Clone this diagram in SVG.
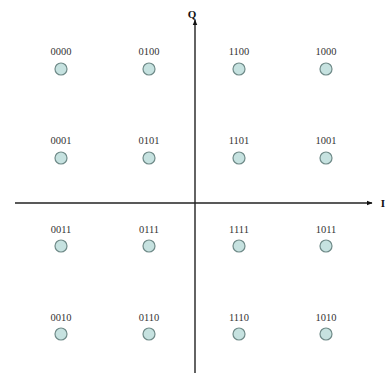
<svg xmlns="http://www.w3.org/2000/svg" width="388" height="373" viewBox="0 0 388 373">
<defs>
<style>
.pt{fill:#c6e2e0;stroke:#6f8a88;stroke-width:1.2}
.lb{font-family:"Liberation Serif",serif;font-size:10.5px;fill:#333;text-anchor:middle}
.ax{stroke:#222;stroke-width:1.4;fill:none}
.al{font-family:"Liberation Serif",serif;font-size:11px;fill:#111;text-anchor:middle;font-weight:bold}
</style>
<marker id="ah" viewBox="0 0 10 10" refX="9" refY="5" markerWidth="6" markerHeight="6" orient="auto" markerUnits="userSpaceOnUse">
<path d="M0,1 L10,5 L0,9 Z" fill="#111"/>
</marker>
</defs>
<rect width="388" height="373" fill="#fff"/>
<g id="connectors">
<line class="ax" x1="15" y1="203" x2="372" y2="203" marker-end="url(#ah)"/>
<line class="ax" x1="195" y1="373" x2="195" y2="20" marker-end="url(#ah)"/>
</g>
<text class="al" x="383" y="207">I</text>
<text class="al" x="192" y="18">Q</text>
<g id="n0000"><text class="lb" x="61" y="55">0000</text><circle class="pt" cx="61" cy="69" r="6"/></g>
<g id="n0100"><text class="lb" x="149" y="55">0100</text><circle class="pt" cx="149" cy="69" r="6"/></g>
<g id="n1100"><text class="lb" x="239" y="55">1100</text><circle class="pt" cx="239" cy="69" r="6"/></g>
<g id="n1000"><text class="lb" x="326" y="55">1000</text><circle class="pt" cx="326" cy="69" r="6"/></g>
<g id="n0001"><text class="lb" x="61" y="144">0001</text><circle class="pt" cx="61" cy="158" r="6"/></g>
<g id="n0101"><text class="lb" x="149" y="144">0101</text><circle class="pt" cx="149" cy="158" r="6"/></g>
<g id="n1101"><text class="lb" x="239" y="144">1101</text><circle class="pt" cx="239" cy="158" r="6"/></g>
<g id="n1001"><text class="lb" x="326" y="144">1001</text><circle class="pt" cx="326" cy="158" r="6"/></g>
<g id="n0011"><text class="lb" x="61" y="233">0011</text><circle class="pt" cx="61" cy="246" r="6"/></g>
<g id="n0111"><text class="lb" x="149" y="233">0111</text><circle class="pt" cx="149" cy="246" r="6"/></g>
<g id="n1111"><text class="lb" x="239" y="233">1111</text><circle class="pt" cx="239" cy="246" r="6"/></g>
<g id="n1011"><text class="lb" x="326" y="233">1011</text><circle class="pt" cx="326" cy="246" r="6"/></g>
<g id="n0010"><text class="lb" x="61" y="321">0010</text><circle class="pt" cx="61" cy="334" r="6"/></g>
<g id="n0110"><text class="lb" x="149" y="321">0110</text><circle class="pt" cx="149" cy="334" r="6"/></g>
<g id="n1110"><text class="lb" x="239" y="321">1110</text><circle class="pt" cx="239" cy="334" r="6"/></g>
<g id="n1010"><text class="lb" x="326" y="321">1010</text><circle class="pt" cx="326" cy="334" r="6"/></g>
</svg>
